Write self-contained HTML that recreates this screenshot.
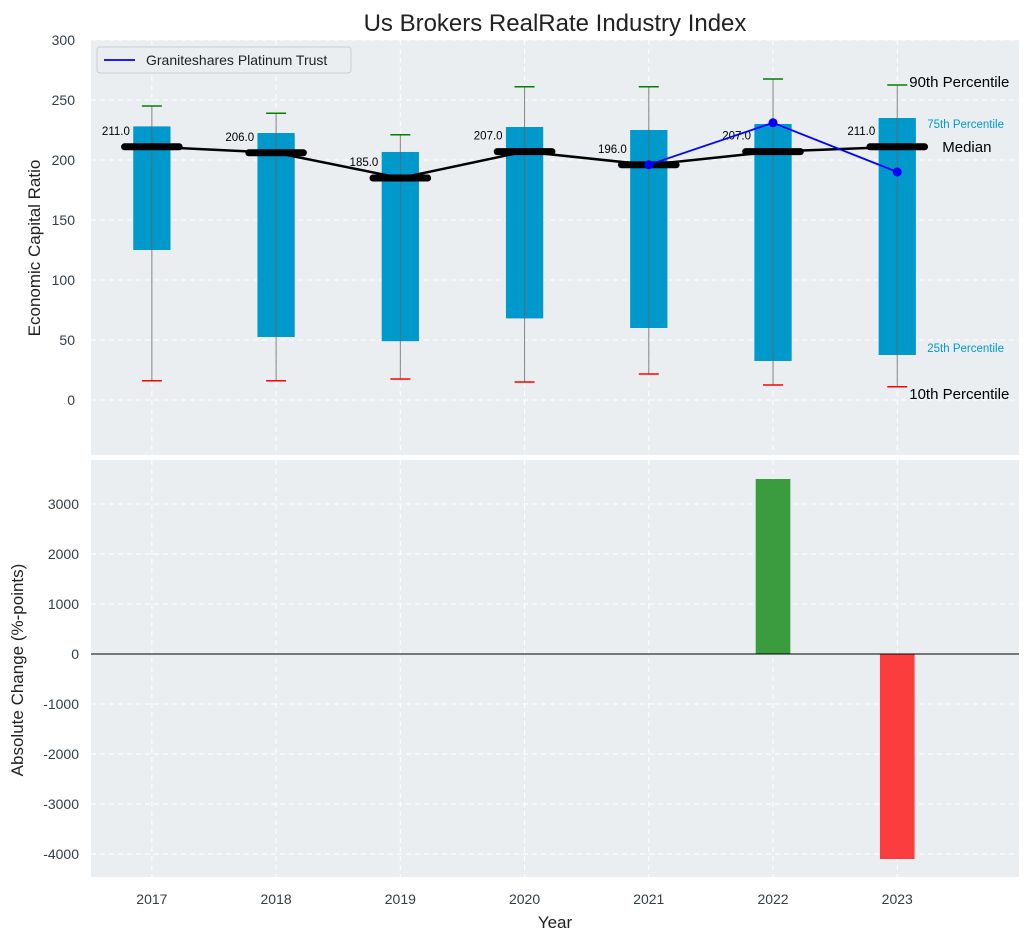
<!DOCTYPE html>
<html><head><meta charset="utf-8"><style>
body{margin:0;background:#fff;font-family:"Liberation Sans",sans-serif}
svg text{font-family:"Liberation Sans",sans-serif}
</style></head><body>
<svg id="c" width="1030" height="940" xmlns="http://www.w3.org/2000/svg"></svg>
<script>
const years=[2017,2018,2019,2020,2021,2022,2023];
const p10=[16,16,17.5,15,21.7,12.5,11];
const p25=[125,52.5,49,68,60,32.5,37.5];
const p50=[211,206,185,207,196,207,211];
const p75=[228,222.5,206.7,227.5,225,230,235];
const p90=[245,239,221,261,261,267.5,262.5];
const trustYears=[2021,2022,2023];
const trustVals=[196,231,190];
const changeYears=[2022,2023];
const changeVals=[3500,-4100];
const topTicks=[0,50,100,150,200,250,300];
const botTicks=[-4000,-3000,-2000,-1000,0,1000,2000,3000];

const NS="http://www.w3.org/2000/svg";
const svg=document.getElementById('c');
function el(t,a,txt){const e=document.createElementNS(NS,t);for(const k in a)e.setAttribute(k,a[k]);if(txt!==undefined)e.textContent=txt;svg.appendChild(e);return e;}
const L=91,R=1019;
const x=v=>L+(v-2016.51)/(2023.98-2016.51)*(R-L);
const yT=v=>400-v*1.2;
const yB=v=>654-v*0.05;
const bg1=el('rect',{x:L,y:40,width:R-L,height:415,fill:'#eaeef0'});

const bg2=el('rect',{x:L,y:460,width:R-L,height:417,fill:'#eaeef0'});

years.forEach(yr=>{el('line',{x1:x(yr),x2:x(yr),y1:40,y2:455,stroke:'#fff','stroke-dasharray':'5,4'});el('line',{x1:x(yr),x2:x(yr),y1:460,y2:877,stroke:'#fff','stroke-dasharray':'5,4'});});
topTicks.forEach(t=>{el('line',{x1:L,x2:R,y1:yT(t),y2:yT(t),stroke:'#fff','stroke-dasharray':'5,4'});
 const tx=el('text',{x:75,y:yT(t)+5,'text-anchor':'end','font-size':14,fill:'#333e48'},t);
 });
botTicks.forEach(t=>{el('line',{x1:L,x2:R,y1:yB(t),y2:yB(t),stroke:'#fff','stroke-dasharray':'5,4'});
 const tx=el('text',{x:79,y:yB(t)+5,'text-anchor':'end','font-size':14,fill:'#333e48'},t);
 });
const bw=(x(2017.15)-x(2017));
years.forEach((yr,i)=>{
 const cx=x(yr);
 const b=el('rect',{x:cx-bw,y:yT(p75[i]),width:2*bw,height:yT(p25[i])-yT(p75[i]),fill:'#0099cc'});
 
 el('line',{x1:cx,x2:cx,y1:yT(p90[i]),y2:yT(p10[i]),stroke:'#666','stroke-width':1,opacity:0.8});
 el('line',{x1:cx-10,x2:cx+10,y1:yT(p90[i]),y2:yT(p90[i]),stroke:'green','stroke-width':1.5});
 el('line',{x1:cx-10,x2:cx+10,y1:yT(p10[i]),y2:yT(p10[i]),stroke:'red','stroke-width':1.5});
});
const mp=el('polyline',{points:years.map((yr,i)=>x(yr)+','+yT(p50[i])).join(' '),fill:'none',stroke:'#000','stroke-width':2.5});

const mw=x(2017.22)-x(2017);
years.forEach((yr,i)=>{
 const m=el('line',{x1:x(yr)-mw,x2:x(yr)+mw,y1:yT(p50[i]),y2:yT(p50[i]),stroke:'#000','stroke-width':7,'stroke-linecap':'round'});
 
 const t=el('text',{x:x(yr)-22,y:yT(p50[i])-12,'text-anchor':'end','font-size':11.5,fill:'#000'},p50[i].toFixed(1));
 
});
const tl=el('polyline',{points:trustYears.map((yr,i)=>x(yr)+','+yT(trustVals[i])).join(' '),fill:'none',stroke:'blue','stroke-width':1.8});

trustYears.forEach((yr,i)=>{const c=el('circle',{cx:x(yr),cy:yT(trustVals[i]),r:4.5,fill:'blue'});});
const last=years.length-1,lx=x(years[last]);
[[lx+12,yT(p90[last])+2,'90th Percentile',15,'#000'],[lx+30,yT(p75[last])+10,'75th Percentile',11.5,'#0099cc'],[lx+45,yT(p50[last])+5,'Median',15,'#000'],[lx+30,yT(p25[last])-3,'25th Percentile',11.5,'#0099cc'],[lx+12,yT(p10[last])+12,'10th Percentile',15,'#000']].forEach(a=>{
 const t=el('text',{x:a[0],y:a[1],'font-size':a[3],fill:a[4]},a[2]);});
const lg=el('rect',{x:97,y:47,width:254,height:26,fill:'#eaeef0',stroke:'#ccc',rx:3});

el('line',{x1:104,x2:135,y1:60,y2:60,stroke:'blue','stroke-width':1.8});
const lt=el('text',{x:146,y:65,'font-size':14,fill:'#222'},'Graniteshares Platinum Trust');

changeYears.forEach((yr,i)=>{const v=changeVals[i];
 const r=el('rect',{x:x(yr)-bw*0.93,y:Math.min(yB(v),yB(0)),width:2*bw*0.93,height:Math.abs(yB(v)-yB(0)),fill:v>=0?'#3a9c3e':'#fb3d3d'});
 });
el('line',{x1:L,x2:R,y1:yB(0),y2:yB(0),stroke:'#000','stroke-width':1});
years.forEach(yr=>{const t=el('text',{x:x(yr),y:904,'text-anchor':'middle','font-size':14,fill:'#333e48'},yr);});
const tt=el('text',{x:555,y:31,'text-anchor':'middle','font-size':24,fill:'#222'},'Us Brokers RealRate Industry Index');

const xl=el('text',{x:555,y:928,'text-anchor':'middle','font-size':17,fill:'#222'},'Year');

const yl=el('text',{x:40,y:248,'text-anchor':'middle','font-size':17,fill:'#222',transform:'rotate(-90 40 248)'},'Economic Capital Ratio');

const y2=el('text',{x:23,y:670,'text-anchor':'middle','font-size':17,fill:'#222',transform:'rotate(-90 23 670)'},'Absolute Change (%-points)');

</script>
</body></html>
